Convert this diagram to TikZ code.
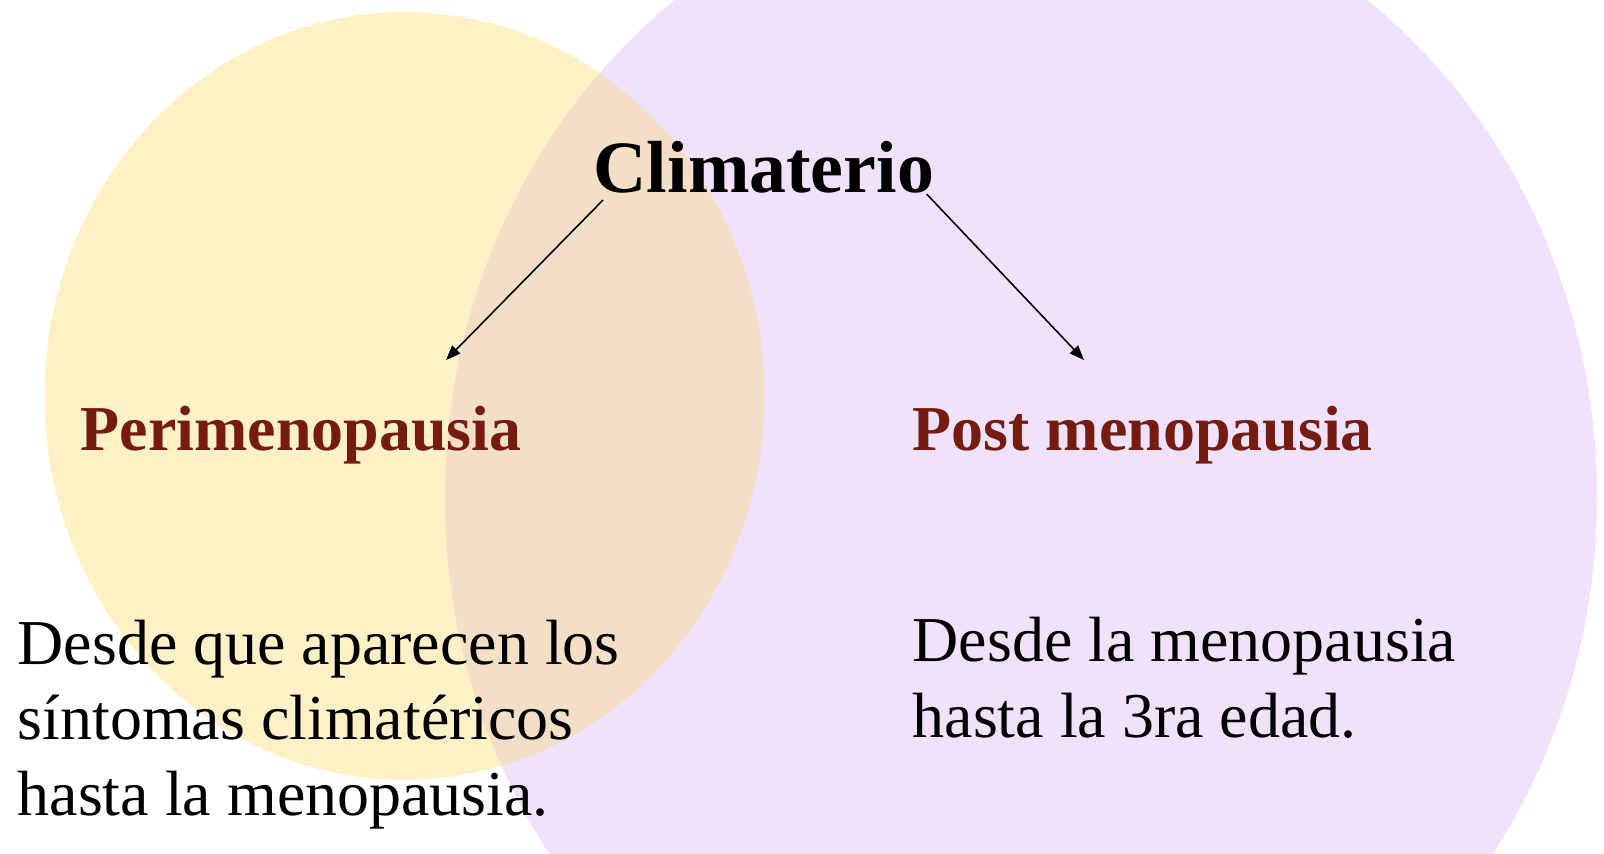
\documentclass[tikz,border=0pt]{standalone}
\usepackage{fontspec}
\setmainfont{Liberation Serif}
\usetikzlibrary{arrows.meta}
\definecolor{periyellow}{RGB}{255,241,197}
\definecolor{postviolet}{RGB}{240,226,253}
\definecolor{overlap}{RGB}{243,222,198}
\definecolor{darkred}{RGB}{118,27,16}
\tikzset{
  title/.style={inner sep=0pt,anchor=base west,font=\bfseries\fontsize{21}{25}\selectfont},
  phase/.style={inner sep=0pt,anchor=base west,text=darkred,font=\bfseries\fontsize{18.2}{22}\selectfont},
  desc/.style={inner sep=0pt,anchor=base west,align=left,font=\fontsize{18.2}{21.4}\selectfont},
  arr/.style={line width=0.45pt,-{Triangle[length=4.2pt,width=3.2pt]}},
}

\begin{document}
\begin{tikzpicture}
  \useasboundingbox (0,0) rectangle (16.04,-8.54);
  \coordinate (Y) at (4.045,-3.96);
  \coordinate (V) at (10.21,-4.97);

  % the two ovals
  \begin{scope}
    \clip (0,0) rectangle (16.04,-8.54);
    \fill [periyellow] (Y) ellipse (3.60 and 3.84);
    \fill [postviolet] (V) ellipse (5.76 and 6.22);
    \clip (Y) ellipse (3.60 and 3.84);
    \fill [overlap] (V) ellipse (5.76 and 6.22);
  \end{scope}

  \node (clima) [title] at (5.93,-1.92) {Climaterio};
  \node (peri) [phase] at (0.80,-4.50) {Perimenopausia};
  \node (post) [phase] at (9.12,-4.50) {Post menopausia};

  % base = last line
  \node (periText) [desc] at (0.17,-8.15) {Desde que aparecen los\\síntomas climatéricos\\hasta la menopausia.};
  \node (postText) [desc] at (9.12,-7.37) {Desde la menopausia\\hasta la 3ra edad.};

  % arrows
  \coordinate (periTip) at (4.46,-3.60);
  \coordinate (postTip) at (10.84,-3.60);
  \draw [arr] ([shift={(0.10,-0.08)}]clima.base west) -- (periTip);
  \draw [arr] ([shift={(-0.08,-0.02)}]clima.base east) -- (postTip);
\end{tikzpicture}
\end{document}
